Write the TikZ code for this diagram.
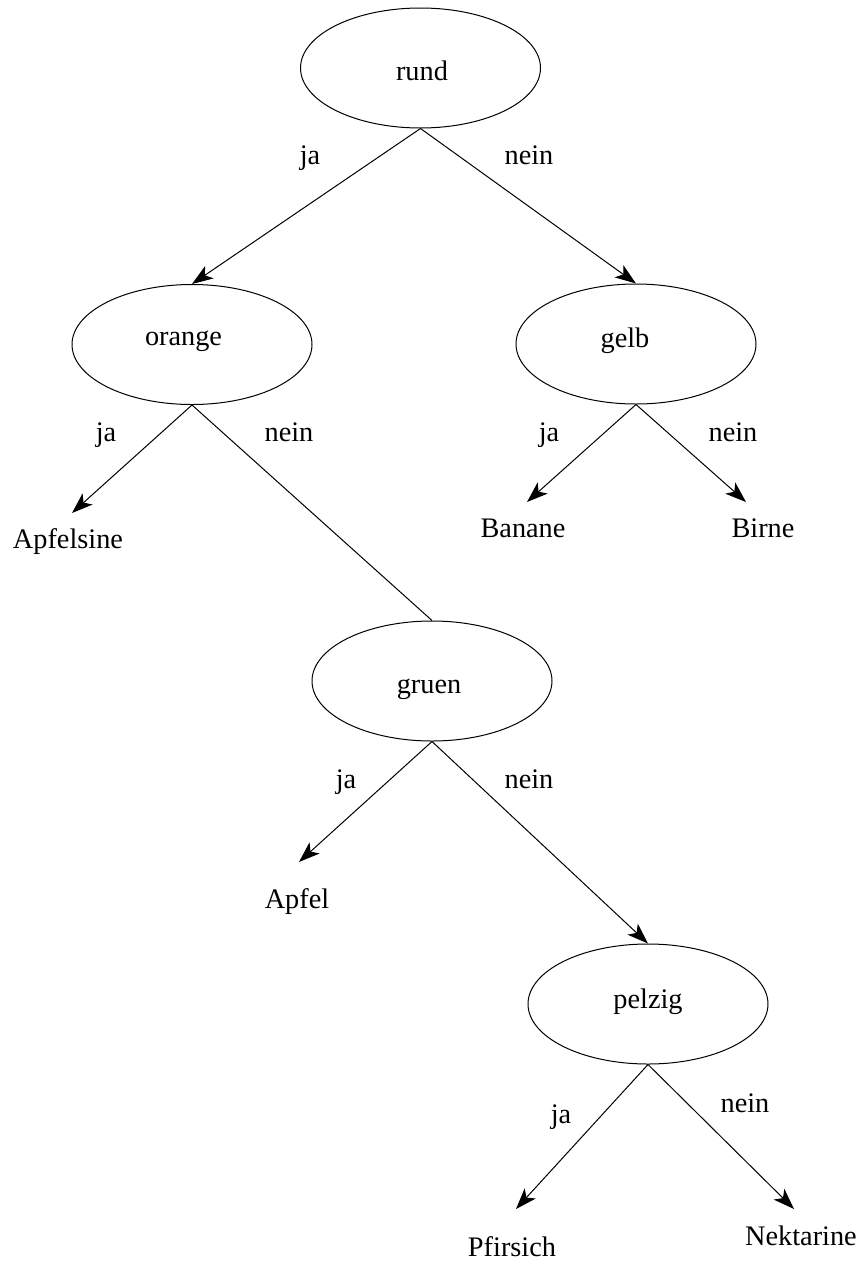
\documentclass[tikz,border=0pt]{standalone}
\usepackage{fontspec}
\setmainfont{Liberation Serif}
\usetikzlibrary{shapes.geometric,arrows.meta}
\tikzset{
  oval/.style={draw, ellipse, line width=1pt, minimum width=240pt, minimum height=120pt, inner sep=0pt},
  txt/.style={anchor=base, inner sep=0pt, font=\fontsize{28.3}{34}\selectfont},
  edge/.style={line width=1pt},
  arr/.style={edge, -{Stealth[length=21pt,width=15pt,inset=5.5pt]}}
}
\begin{document}
\begin{tikzpicture}[x=1pt,y=-1pt]
\useasboundingbox (0,0) rectangle (864,1266);
% decision ellipses
\node[oval] (rund) at (420.5,68) {};
\node[oval] (orange) at (192,344.5) {};
\node[oval] (gelb) at (636,344) {};
\node[oval] (gruen) at (432,681) {};
\node[oval] (pelzig) at (648,1004) {};
% ellipse texts
\node[txt] (trund) at (422,80) {rund};
\node[txt] (torange) at (183.5,345) {orange};
\node[txt] (tgelb) at (625,347) {gelb};
\node[txt] (tgruen) at (429,693) {gruen};
\node[txt] (tpelzig) at (648,1008) {pelzig};
% arrow tips to leaves
\coordinate (cApfelsine) at (72,513);
\coordinate (cBanane) at (527,502);
\coordinate (cBirne) at (746,502);
\coordinate (cApfel) at (299,862);
\coordinate (cPfirsich) at (516,1209);
\coordinate (cNektarine) at (794,1209);
% leaf texts
\node[txt] (Apfelsine) at (68,548) {Apfelsine};
\node[txt] (Banane) at (523,537) {Banane};
\node[txt] (Birne) at (763,537) {Birne};
\node[txt] (Apfel) at (297,908) {Apfel};
\node[txt] (Pfirsich) at (512,1256) {Pfirsich};
\node[txt] (Nektarine) at (801,1245) {Nektarine};
% connectors
\draw[arr] (rund.south) -- (orange.north);
\draw[arr] (rund.south) -- (gelb.north);
\draw[arr] (orange.south) -- (cApfelsine);
\draw[edge] (orange.south) -- (gruen.north);
\draw[arr] (gelb.south) -- (cBanane);
\draw[arr] (gelb.south) -- (cBirne);
\draw[arr] (gruen.south) -- (cApfel);
\draw[arr] (gruen.south) -- (pelzig.north);
\draw[arr] (pelzig.south) -- (cPfirsich);
\draw[arr] (pelzig.south) -- (cNektarine);
% edge labels
\node[txt] (l1) at (310,164) {ja};
\node[txt] (l2) at (529,164) {nein};
\node[txt] (l3) at (106,441) {ja};
\node[txt] (l4) at (289,441) {nein};
\node[txt] (l5) at (549,441) {ja};
\node[txt] (l6) at (733,441) {nein};
\node[txt] (l7) at (346,788) {ja};
\node[txt] (l8) at (529,788) {nein};
\node[txt] (l9) at (561,1123) {ja};
\node[txt] (l10) at (745,1112) {nein};
\end{tikzpicture}
\end{document}
